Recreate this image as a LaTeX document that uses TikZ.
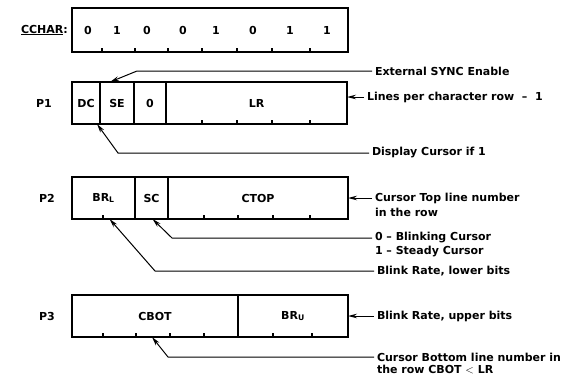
\documentclass[tikz,border=0pt]{standalone}
\usepackage{fontspec}
\setmainfont{DejaVu Sans}
\usetikzlibrary{positioning, arrows.meta, calc}

\begin{document}
\begin{tikzpicture}[
        x=1pt, y=-1pt,
        >={Stealth[length=9pt, width=4.5pt]},
        font=\fontsize{11}{13}\selectfont\bfseries,
        field/.style={rectangle, draw=black, line width=1.3pt, inner sep=0pt, outer sep=0pt, minimum height=42pt, anchor=north west},
        reglabel/.style={inner sep=0pt},
        note/.style={anchor=west, inner sep=0pt, outer xsep=3pt},
        leader/.style={->, line width=1pt},
        tick/.style={line width=1.1pt}
    ]

    \useasboundingbox (0,0) rectangle (566,378);

    % CCHAR register
    \node[field, minimum width=276pt, minimum height=44pt] (cchar) at (72,8) {};
    \node[reglabel, anchor=east] (lblcchar) at (68,30) {\underline{CCHAR}:};
    \foreach \x/\b [count=\i] in {88/0,117/1,147/0,183/0,216/1,253/0,290/1,327/1}
        \node (bit\i) at (\x,30) {\b};
    \foreach \x in {102,135,168,202,237,272,310}
        \draw[tick] (\x,52) -- (\x,48);

    % P1
    \node[reglabel] (lblpone) at (44,103) {P1};
    \node[field, minimum width=28pt] (p1dc) at (72,82) {DC};
    \node[field, minimum width=34pt, right=0pt of p1dc] (p1se) {SE};
    \node[field, minimum width=32pt, right=0pt of p1se] (p1zero) {0};
    \node[field, minimum width=181pt, right=0pt of p1zero] (p1lr) {LR};
    \foreach \x in {202,237,272,310}
        \draw[tick] (\x,124) -- (\x,120);

    % P2
    \node[reglabel] (lblptwo) at (47,198) {P2};
    \node[field, minimum width=63pt] (p2brl) at (72,177) {BR\textsubscript{L}};
    \node[field, minimum width=33pt, right=0pt of p2brl] (p2sc) {SC};
    \node[field, minimum width=180pt, right=0pt of p2sc] (p2ctop) {CTOP};
    \foreach \x in {103,204,238,273,310}
        \draw[tick] (\x,219) -- (\x,215);

    % P3
    \node[reglabel] (lblpthree) at (47,316) {P3};
    \node[field, minimum width=166pt] (p3cbot) at (72,295) {CBOT};
    \node[field, minimum width=110pt, right=0pt of p3cbot] (p3bru) {BR\textsubscript{U}};
    \foreach \x in {103,136,170,204,273,312}
        \draw[tick] (\x,337) -- (\x,333);

    % Notes
    \node[note] (txtsync) at (372,71) {External SYNC Enable};
    \node[note] (txtlines) at (364,97) {Lines per character row \ -- \ 1};
    \node[note] (txtdisp) at (369,153) {Display Cursor if 1};
    \node[note] (txtctop) at (372,198) {Cursor Top line number};
    \node[note] (txtctopb) at (372,212) {in the row};
    \node[note] (txtsc) at (372,238) {0 -- Blinking Cursor};
    \node[note] (txtscb) at (372,252) {1 -- Steady Cursor};
    \node[note] (txtbrl) at (374,271) {Blink Rate, lower bits};
    \node[note] (txtbru) at (374,316) {Blink Rate, upper bits};
    \node[note] (txtcbot) at (374,357) {Cursor Bottom line number in};
    \node[note] (txtcbotb) at (374,370) {the row CBOT $<$ LR};

    % Bends
    \coordinate (syncbend) at (137,71);
    \coordinate (dispbend) at (118,153);
    \coordinate (scbend) at (172,238);
    \coordinate (brlbend) at (155,271);
    \coordinate (cbotbend) at (168,357);

    % Leaders
    \draw[leader] (txtsync.west) -- (syncbend) -- ([xshift=-7pt]p1se.north);
    \draw[leader] (txtlines.west) -- (txtlines.west -| p1lr.east);
    \draw[leader] (txtdisp.west) -- (dispbend) -- ([xshift=11pt]p1dc.south);
    \draw[leader] (txtctop.west) -- (txtctop.west -| p2ctop.east);
    \draw[leader] (txtsc.west) -- (scbend) -- ([xshift=1pt]p2sc.south);
    \draw[leader] (txtbrl.west) -- (brlbend) -- ([xshift=6pt]p2brl.south);
    \draw[leader] (txtbru.west) -- (txtbru.west -| p3bru.east);
    \draw[leader] (txtcbot.west) -- (cbotbend) -- ([xshift=-3pt]p3cbot.south);

\end{tikzpicture}
\end{document}
